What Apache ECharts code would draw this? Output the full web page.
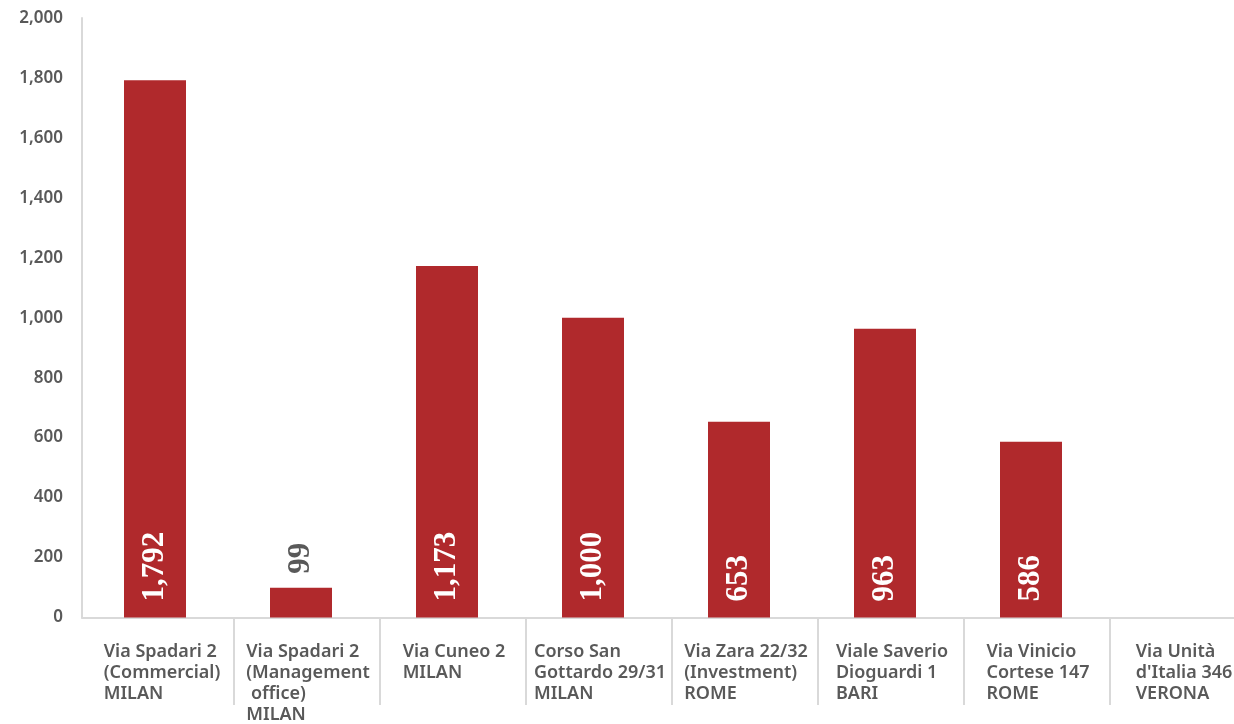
<!DOCTYPE html>
<html>
<head>
<meta charset="utf-8">
<script src="https://cdn.jsdelivr.net/npm/echarts@6/dist/echarts.min.js"></script>
<style>
html,body{margin:0;padding:0;background:#fff;overflow:hidden;width:1234px;height:724px;}
#chart{width:1256px;height:724px;}
</style>
</head>
<body>
<div id="chart"></div>
<script>
var categories = [
  "Via Spadari 2\n(Commercial)\nMILAN",
  "Via Spadari 2\n(Management\n office)\nMILAN",
  "Via Cuneo 2\nMILAN",
  "Corso San\nGottardo 29/31\nMILAN",
  "Via Zara 22/32\n(Investment)\nROME",
  "Viale Saverio\nDioguardi 1\nBARI",
  "Via Vinicio\nCortese 147\nROME",
  "Via Unità\nd'Italia 346\nVERONA"
];
var values = [1792, 99, 1173, 1000, 653, 963, 586, null];
var yTicks = { min: 0, max: 2000, interval: 200 };

var BAR = '#b0292c';
var GREY_TXT = '#595959';
var AXIS = '#d9d9d9';

function fmt(n){ return String(n).replace(/\B(?=(\d{3})+(?!\d))/g, ','); }

var seriesData = values.map(function(v){
  if (v === null) return null;
  var small = v < 300;
  return {
    value: v,
    label: small ? {
      position: 'top', color: GREY_TXT, distance: 14
    } : {
      position: 'insideBottom', color: '#ffffff', distance: 16
    }
  };
});

var chart = echarts.init(document.getElementById('chart'), null, {renderer:'canvas'});
chart.setOption({
  animation: false,
  backgroundColor: '#ffffff',
  grid: [
    { left: 82, top: 18, bottom: 106, right: 6 },
    { left: 88, top: 18, bottom: 106, right: 0 }
  ],
  xAxis: [{
    type: 'category',
    gridIndex: 0,
    data: categories,
    axisLine: { show: true, lineStyle: { color: AXIS, width: 2 } },
    axisTick: { show: false },
    axisLabel: {
      interval: 0,
      margin: 24,
      padding: [0, 0, 0, 14],
      align: 'center',
      formatter: function(v){
        return v.split('\n').map(function(l){ return '{a|' + l + '}'; }).join('\n');
      },
      rich: {
        a: {
          fontFamily: '"Noto Sans", sans-serif',
          fontSize: 18,
          fontWeight: 600,
          color: GREY_TXT,
          lineHeight: 21,
          align: 'left'
        }
      }
    }
  }, {
    type: 'category',
    gridIndex: 1,
    data: categories,
    axisLine: { show: false },
    axisLabel: { show: false },
    axisTick: {
      show: true,
      length: 87,
      interval: function(i){ return i !== 0; },
      lineStyle: { color: AXIS, width: 2 }
    }
  }],
  yAxis: [{
    type: 'value',
    gridIndex: 0,
    min: yTicks.min,
    max: yTicks.max,
    interval: yTicks.interval,
    splitLine: { show: false },
    axisTick: { show: false },
    axisLine: { show: true, lineStyle: { color: AXIS, width: 2 } },
    axisLabel: {
      margin: 19,
      fontFamily: '"Noto Sans", sans-serif',
      fontSize: 17,
      fontWeight: 600,
      color: GREY_TXT,
      formatter: function(v){ return fmt(v); }
    }
  }, {
    type: 'value',
    gridIndex: 1,
    min: yTicks.min,
    max: yTicks.max,
    show: false
  }],
  series: [{
    type: 'bar',
    xAxisIndex: 0,
    yAxisIndex: 0,
    data: seriesData,
    barWidth: 62,
    itemStyle: { color: BAR },
    label: {
      show: true,
      rotate: 90,
      align: 'left',
      verticalAlign: 'middle',
      fontFamily: '"Liberation Serif", serif',
      fontWeight: 'bold',
      fontSize: 31,
      formatter: function(p){ return fmt(p.value); }
    }
  }]
});
</script>
</body>
</html>
